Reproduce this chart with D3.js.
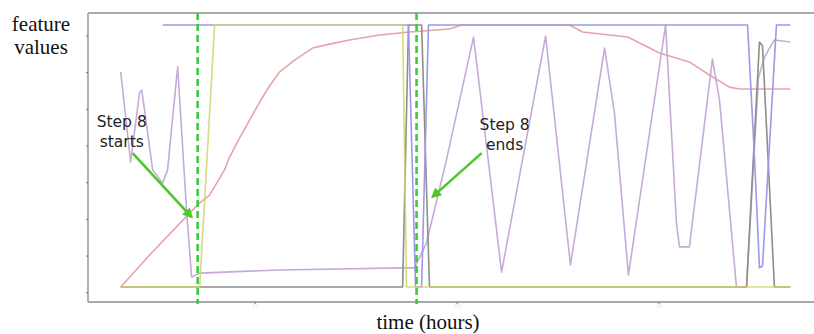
<!DOCTYPE html>
<html>
<head>
<meta charset="utf-8">
<script src="https://cdn.jsdelivr.net/npm/d3@7"></script>
<style>
  body { margin: 0; background: #fff; }
  #chart { width: 814px; height: 334px; }
</style>
</head>
<body>
<div id="chart"></div>
<script>
// time in hours, feature values normalised 0..1
const pinkT   = [3.37, 4.80, 6.78, 7.28, 7.77, 8.51, 8.76, 9.26, 9.75, 10.25, 10.74, 11.24, 11.98, 12.87, 13.71, 14.70, 16.19, 17.67, 19.65, 20.25, 25.59, 26.24, 28.47, 30.05, 31.53, 32.52, 33.51, 34.01, 36.53];
const pinkV   = [0, 0.122, 0.282, 0.321, 0.351, 0.447, 0.496, 0.569, 0.637, 0.706, 0.767, 0.821, 0.866, 0.912, 0.927, 0.943, 0.962, 0.973, 0.985, 1.0, 1.0, 0.973, 0.954, 0.893, 0.859, 0.809, 0.763, 0.756, 0.756];

const purpleT = [3.37, 3.86, 4.30, 4.41, 4.55, 4.95, 5.45, 5.69, 6.19, 6.63, 6.88, 7.28, 11.24, 17.33, 17.92, 18.51, 19.50, 20.84, 22.23, 24.41, 25.64, 27.33, 27.82, 28.51, 30.35, 30.89, 31.04, 31.53, 32.67, 33.02, 33.86, 34.36, 34.95, 35.25, 35.74, 36.53];
const purpleV = [0.821, 0.477, 0.74, 0.752, 0.676, 0.447, 0.397, 0.447, 0.840, 0.294, 0.038, 0.053, 0.065, 0.073, 0.073, 0.168, 0.485, 0.954, 0.057, 0.958, 0.084, 0.912, 0.664, 0.046, 1.0, 0.244, 0.153, 0.153, 0.870, 0.714, 0, 0, 0.80, 0.878, 0.943, 0.935];

const blueT   = [5.45, 17.62, 17.97, 18.27, 18.61, 34.41, 34.75, 35.00, 35.15, 35.84, 36.53];
const blueV   = [1, 1, 0, 0, 1, 1, 0.5, 0.073, 0.08, 1, 1];

const grayT   = [3.37, 17.33, 17.62, 18.27, 18.66, 34.36, 35.00, 35.15, 35.74, 36.53];
const grayV   = [0, 0, 1, 1, 0, 0, 0.935, 0.92, 0, 0];

const yellowT = [3.37, 7.28, 8.02, 17.33, 17.52, 36.53];
const yellowV = [0, 0, 1, 1, 0, 0];

const stepMarks = [7.18, 18.02];
const xTicks = [10, 20, 30];
const yTicks = [-0.02, 0.12, 0.26, 0.40, 0.54, 0.68, 0.82, 0.96];

const series = [
  {name: "pink",   t: pinkT,   v: pinkV,   color: "#e8a4a8"},
  {name: "purple", t: purpleT, v: purpleV, color: "#c6abd8"},
  {name: "gray",   t: grayT,   v: grayV,   color: "#8e8e86"},
  {name: "blue",   t: blueT,   v: blueV,   color: "#9a9ae8"},
  {name: "yellow", t: yellowT, v: yellowV, color: "#d4d468"}
];

const W = 814, H = 334;
const margin = {top: 13, right: 0, bottom: 33, left: 88};

const svg = d3.select("#chart").append("svg")
  .attr("width", W).attr("height", H);

const x = d3.scaleLinear().domain([1.75, 37.7]).range([margin.left, W]);
const y = d3.scaleLinear().domain([0, 1]).range([287, 25]);

// frame
const fc = "#a9a9a9";
svg.append("line").attr("x1", margin.left).attr("x2", W).attr("y1", margin.top).attr("y2", margin.top)
  .attr("stroke", fc).attr("stroke-width", 1.8);
svg.append("line").attr("x1", margin.left).attr("x2", margin.left).attr("y1", margin.top).attr("y2", H - margin.bottom + 1)
  .attr("stroke", fc).attr("stroke-width", 1.8);
svg.append("line").attr("x1", margin.left).attr("x2", W).attr("y1", H - margin.bottom + 1).attr("y2", H - margin.bottom + 1)
  .attr("stroke", fc).attr("stroke-width", 1.8);

// axes (tiny ticks, faint labels)
const xAxis = svg.append("g").attr("transform", `translate(0,${H - margin.bottom + 1})`)
  .call(d3.axisBottom(x).tickValues(xTicks).tickSize(2).tickPadding(0));
xAxis.select(".domain").remove();
xAxis.selectAll("line").attr("stroke", "#777");
xAxis.selectAll("text").attr("fill", "#e6e6e6").attr("font-size", 6).attr("font-family", "DejaVu Sans");

const yAxis = svg.append("g").attr("transform", `translate(${margin.left},0)`)
  .call(d3.axisLeft(y).tickValues(yTicks).tickSize(2).tickFormat(""));
yAxis.select(".domain").remove();
yAxis.selectAll("line").attr("stroke", "#777");

// series
const line = d3.line().x(d => x(d[0])).y(d => y(d[1]));
series.forEach(s => {
  svg.append("path")
    .datum(d3.zip(s.t, s.v))
    .attr("fill", "none")
    .attr("stroke", s.color)
    .attr("stroke-width", 1.6)
    .attr("stroke-linejoin", "round")
    .attr("opacity", s.name === "yellow" ? 0.85 : 1)
    .attr("d", line);
});

// step markers
svg.selectAll(".step").data(stepMarks).enter().append("line")
  .attr("x1", d => x(d)).attr("x2", d => x(d))
  .attr("y1", margin.top).attr("y2", 304)
  .attr("stroke", "#3ccc3c").attr("stroke-width", 2.6)
  .attr("stroke-dasharray", "7,4");

// annotations
svg.append("defs").append("marker")
  .attr("id", "head").attr("viewBox", "0 0 10 10")
  .attr("refX", 8).attr("refY", 5)
  .attr("markerWidth", 4).attr("markerHeight", 4)
  .attr("orient", "auto")
  .append("path").attr("d", "M0,0 L10,5 L0,10 z").attr("fill", "#4cc82a");

const notes = [
  {lines: ["Step 8", "starts"], tx: 3.42, ty: 0.611, from: [3.96, 0.511], to: [6.88, 0.267]},
  {lines: ["Step 8", "ends"],   tx: 22.38, ty: 0.599, from: [21.24, 0.511], to: [18.81, 0.344]}
];
notes.forEach(n => {
  svg.append("line")
    .attr("x1", x(n.from[0])).attr("y1", y(n.from[1]))
    .attr("x2", x(n.to[0])).attr("y2", y(n.to[1]))
    .attr("stroke", "#4cc82a").attr("stroke-width", 2.6)
    .attr("marker-end", "url(#head)");
  const t = svg.append("text")
    .attr("x", x(n.tx)).attr("y", y(n.ty))
    .attr("text-anchor", "middle")
    .attr("font-family", "DejaVu Sans, Verdana, sans-serif")
    .attr("font-size", 15.5).attr("fill", "#222");
  n.lines.forEach((l, i) => {
    t.append("tspan").attr("x", x(n.tx)).attr("dy", i ? 20 : 0).text(l);
  });
});

// axis titles
const yt = svg.append("text").attr("x", 41).attr("y", 31)
  .attr("text-anchor", "middle").attr("font-family", "Liberation Serif, Times New Roman, serif")
  .attr("font-size", 21).attr("fill", "#111");
yt.append("tspan").attr("x", 41).text("feature");
yt.append("tspan").attr("x", 41).attr("dy", 23).text("values");

svg.append("text").attr("x", 428).attr("y", 329)
  .attr("text-anchor", "middle").attr("font-family", "Liberation Serif, Times New Roman, serif")
  .attr("font-size", 21).attr("fill", "#111")
  .text("time (hours)");
</script>
</body>
</html>
